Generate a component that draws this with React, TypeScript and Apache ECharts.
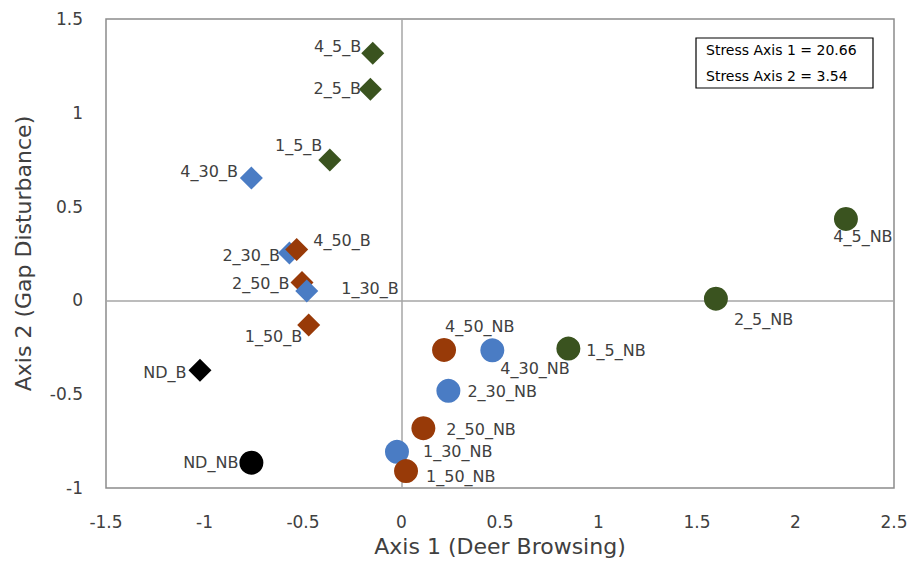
import React, { useEffect, useRef } from "react";
import * as echarts from "echarts";

// ---- data ----
const pointNames = [
  "4_5_B", "2_5_B", "1_5_B", "4_30_B", "2_30_B", "4_50_B", "2_50_B", "1_30_B", "1_50_B", "ND_B",
  "ND_NB", "1_30_NB", "1_50_NB", "2_50_NB", "2_30_NB", "4_50_NB", "4_30_NB", "1_5_NB", "2_5_NB", "4_5_NB",
];
const axis1Values = [
  -0.146, -0.158, -0.364, -0.762, -0.569, -0.532, -0.505, -0.481, -0.471, -1.023,
  -0.762, -0.023, 0.023, 0.111, 0.238, 0.216, 0.461, 0.847, 1.596, 2.256,
];
const axis2Values = [
  1.318, 1.126, 0.748, 0.652, 0.253, 0.271, 0.096, 0.05, -0.131, -0.372,
  -0.865, -0.807, -0.91, -0.681, -0.482, -0.264, -0.266, -0.257, 0.009, 0.434,
];
// group: gap size (5, 30, 50, ND) ; browsing: B = diamond, NB = circle
const groupOf = [
  "5", "5", "5", "30", "30", "50", "50", "30", "50", "ND",
  "ND", "30", "50", "50", "30", "50", "30", "5", "5", "5",
];
const xTicks = [-1.5, -1, -0.5, 0, 0.5, 1, 1.5, 2, 2.5];
const yTicks = [-1, -0.5, 0, 0.5, 1, 1.5];
const stressLines = ["Stress Axis 1 = 20.66", "Stress Axis 2 = 3.54"];

// ---- styles ----
const groupColors: Record<string, string> = {
  "5": "#3A531F",
  "30": "#4A7CC4",
  "50": "#983A08",
  ND: "#000000",
};
const labelPlacement: Record<string, { position: string; offset: [number, number] }> = {
  "4_5_B": { position: "left", offset: [5, -7] },
  "2_5_B": { position: "left", offset: [7, -1] },
  "1_5_B": { position: "left", offset: [9, -15] },
  "4_30_B": { position: "left", offset: [3, -7] },
  "2_30_B": { position: "left", offset: [7, 3] },
  "4_50_B": { position: "right", offset: [0, -9] },
  "2_50_B": { position: "left", offset: [4, 1] },
  "1_30_B": { position: "right", offset: [18, -3] },
  "1_50_B": { position: "left", offset: [10, 12] },
  ND_B: { position: "left", offset: [3, 2] },
  ND_NB: { position: "left", offset: [4, 0] },
  "1_30_NB": { position: "right", offset: [9, 0] },
  "1_50_NB": { position: "right", offset: [3, 5] },
  "2_50_NB": { position: "right", offset: [6, 1] },
  "2_30_NB": { position: "right", offset: [2, 1] },
  "4_50_NB": { position: "right", offset: [-16, -23] },
  "4_30_NB": { position: "right", offset: [-9, 18] },
  "1_5_NB": { position: "right", offset: [1, 2] },
  "2_5_NB": { position: "right", offset: [1, 21] },
  "4_5_NB": { position: "bottom", offset: [17, -7] },
};

const FONT = "'DejaVu Sans', sans-serif";

export default function App() {
  const ref = useRef<HTMLDivElement>(null);

  useEffect(() => {
    if (!ref.current) return;
    const chart = echarts.init(ref.current, undefined, { renderer: "svg" });

    const makeData = (browsed: boolean) =>
      pointNames
        .map((name, i) => ({ name, i }))
        .filter(({ name }) => name.endsWith("_NB") !== browsed)
        .map(({ name, i }) => {
          const lp = labelPlacement[name];
          return {
            name,
            value: [axis1Values[i], axis2Values[i]],
            itemStyle: { color: groupColors[groupOf[i]], opacity: 1 },
            label: {
              show: true,
              formatter: name,
              position: lp.position,
              offset: lp.offset,
              color: "#404040",
              fontSize: 16,
              fontFamily: FONT,
            },
          };
        });

    chart.setOption({
      animation: false,
      backgroundColor: "#ffffff",
      grid: {
        left: 106,
        top: 19,
        right: 17,
        bottom: 73,
        show: true,
        borderColor: "#8c8c8c",
        borderWidth: 1.5,
        containLabel: false,
      },
      xAxis: {
        type: "value",
        min: xTicks[0],
        max: xTicks[xTicks.length - 1],
        interval: 0.5,
        name: "Axis 1 (Deer Browsing)",
        nameLocation: "middle",
        nameGap: 47,
        nameTextStyle: { fontSize: 22, color: "#404040", fontFamily: FONT },
        axisLine: { show: false },
        axisTick: { show: false },
        splitLine: { show: false },
        axisLabel: {
          fontSize: 17,
          color: "#404040",
          fontFamily: FONT,
          margin: 25,
          formatter: (v: number) => String(v),
        },
      },
      yAxis: {
        type: "value",
        min: yTicks[0],
        max: yTicks[yTicks.length - 1],
        interval: 0.5,
        name: "Axis 2 (Gap Disturbance)",
        nameLocation: "middle",
        nameGap: 72,
        nameTextStyle: { fontSize: 22, color: "#404040", fontFamily: FONT },
        axisLine: { show: false },
        axisTick: { show: false },
        splitLine: { show: false },
        axisLabel: {
          fontSize: 17,
          color: "#404040",
          fontFamily: FONT,
          margin: 23,
          formatter: (v: number) => String(v),
        },
      },
      series: [
        {
          type: "scatter",
          name: "Browsed",
          symbol: "diamond",
          symbolSize: 23,
          data: makeData(true),
          z: 3,
          markLine: {
            silent: true,
            symbol: "none",
            label: { show: false },
            lineStyle: { color: "#a6a6a6", width: 1.5, type: "solid" },
            data: [{ xAxis: 0 }, { yAxis: 0 }],
            z: 1,
          },
        },
        {
          type: "scatter",
          name: "Not browsed",
          symbol: "circle",
          symbolSize: 24,
          data: makeData(false),
          z: 3,
        },
      ],
      graphic: [
        {
          type: "rect",
          shape: { x: 696, y: 38, width: 177, height: 50 },
          style: { fill: "#ffffff", stroke: "#000000", lineWidth: 1.2 },
          z: 10,
        },
        ...stressLines.map((t, k) => ({
          type: "text",
          x: 706,
          y: 50 + k * 26,
          style: {
            text: t,
            fill: "#000000",
            font: `14px ${FONT}`,
            textVerticalAlign: "middle",
          },
          z: 11,
        })),
      ],
    });

    return () => chart.dispose();
  }, []);

  return (
    <div
      ref={ref}
      style={{ position: "absolute", left: 0, top: 0, width: 911, height: 562 }}
    />
  );
}
